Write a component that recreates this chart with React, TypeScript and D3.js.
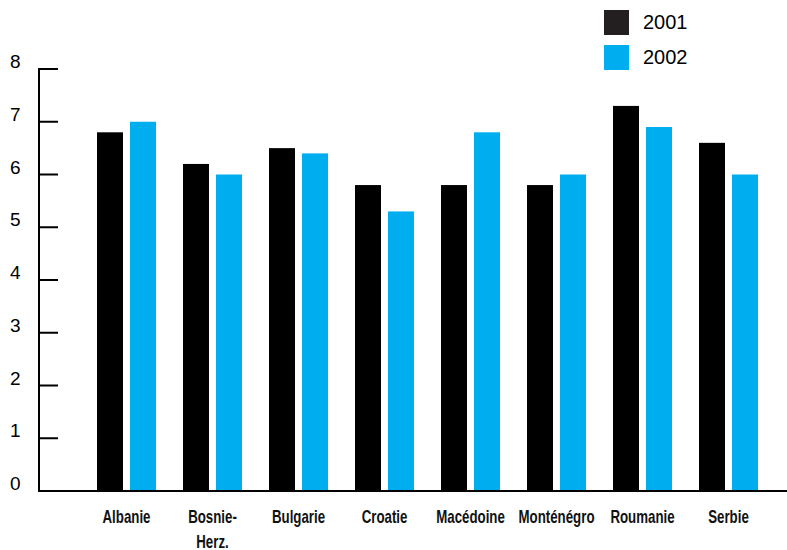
import React from 'react';
import * as d3 from 'd3';

const categories = ['Albanie', 'Bosnie-\nHerz.', 'Bulgarie', 'Croatie', 'Macédoine', 'Monténégro', 'Roumanie', 'Serbie'];
const seriesNames = ['2001', '2002'];
const values2001 = [6.8, 6.2, 6.5, 5.8, 5.8, 5.8, 7.3, 6.6];
const values2002 = [7.0, 6.0, 6.4, 5.3, 6.8, 6.0, 6.9, 6.0];
const yTicks = [0, 1, 2, 3, 4, 5, 6, 7, 8];

const colors = ['#000000', '#00aeef'];
const legendColors = ['#231f20', '#00aeef'];

const App: React.FC = () => {
  const width = 787;
  const height = 550;
  const axisX = 39;

  const y = d3.scaleLinear().domain([0, 8]).range([491, 69]);
  const x = d3
    .scaleBand<string>()
    .domain(categories)
    .range([83.5, 771.5])
    .paddingInner(27 / 86)
    .paddingOuter(13.5 / 86);
  const xInner = d3
    .scaleBand<string>()
    .domain(seriesNames)
    .range([0, x.bandwidth()])
    .paddingInner(7 / 33);

  const series = [values2001, values2002];

  return (
    <svg width={width} height={height} style={{ position: 'absolute', left: 0, top: 0 }}>
      <rect width={width} height={height} fill="#fff" />
      {/* bars */}
      {categories.map((c, i) => (
        <g key={c} transform={`translate(${x(c)},0)`}>
          {seriesNames.map((s, j) => (
            <rect
              key={s}
              x={xInner(s)}
              y={y(series[j][i])}
              width={xInner.bandwidth()}
              height={y(0) - y(series[j][i])}
              fill={colors[j]}
            />
          ))}
        </g>
      ))}
      {/* axes */}
      <line x1={axisX} x2={axisX} y1={y(8) - 1} y2={y(0) + 1} stroke="#000" strokeWidth={2} />
      <line x1={axisX - 1} x2={width} y1={y(0)} y2={y(0)} stroke="#000" strokeWidth={2} />
      {yTicks.map((t) => (
        <g key={t}>
          {t > 0 && <line x1={axisX} x2={58} y1={y(t)} y2={y(t)} stroke="#000" strokeWidth={2} />}
          <text x={10} y={y(t) - 1} fontFamily="Liberation Sans, Arial, sans-serif" fontSize={19} fill="#000">
            {t}
          </text>
        </g>
      ))}
      {/* x labels, condensed */}
      {categories.map((c) => (
        <g key={c} transform={`translate(${(x(c) ?? 0) + x.bandwidth() / 2},523) scale(0.7,1)`}>
          <text
            textAnchor="middle"
            fontFamily="Liberation Sans, Arial, sans-serif"
            fontWeight="bold"
            fontSize={19}
            fill="#111"
          >
            {c.split('\n').map((line, k) => (
              <tspan key={k} x={0} dy={k === 0 ? 0 : 25}>
                {line}
              </tspan>
            ))}
          </text>
        </g>
      ))}
      {/* legend */}
      {seriesNames.map((s, j) => (
        <g key={s} transform={`translate(604,${10 + j * 35})`}>
          <rect width={25} height={25} fill={legendColors[j]} />
          <text x={39} y={19} fontFamily="Liberation Sans, Arial, sans-serif" fontSize={20} fill="#000">
            {s}
          </text>
        </g>
      ))}
    </svg>
  );
};

export default App;
